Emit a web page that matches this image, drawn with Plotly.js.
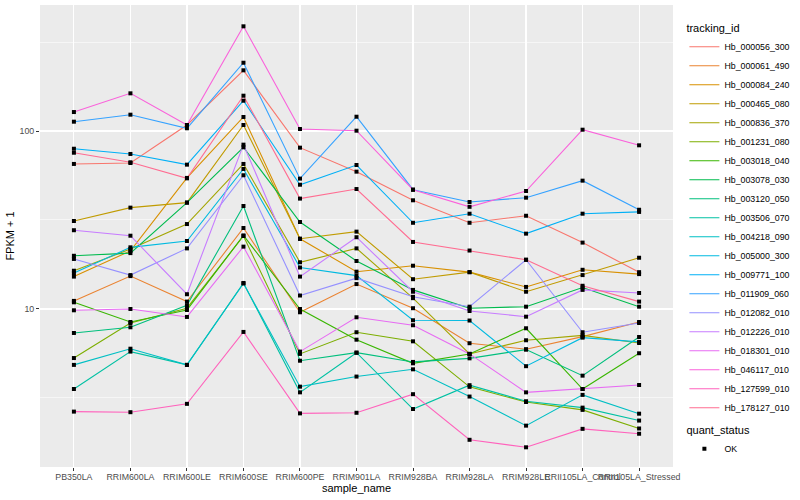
<!DOCTYPE html>
<html>
<head>
<meta charset="utf-8">
<script src="https://cdn.plot.ly/plotly-3.0.1.min.js"></script>
<style>
  html, body { margin: 0; padding: 0; background: #ffffff; }
  #chart { width: 800px; height: 500px; }
</style>
</head>
<body>
<div id="chart"></div>
<script>
// x categories (sample_name)
const categories = ["PB350LA", "RRIM600LA", "RRIM600LE", "RRIM600SE", "RRIM600PE", "RRIM901LA",
  "RRIM928BA", "RRIM928LA", "RRIM928LE", "RRII105LA_Control", "RRII105LA_Stressed"];

// tracking ids (legend order)
const trackingIds = ["Hb_000056_300", "Hb_000061_490", "Hb_000084_240", "Hb_000465_080", "Hb_000836_370",
  "Hb_001231_080", "Hb_003018_040", "Hb_003078_030", "Hb_003120_050", "Hb_003506_070",
  "Hb_004218_090", "Hb_005000_300", "Hb_009771_100", "Hb_011909_060", "Hb_012082_010",
  "Hb_012226_010", "Hb_018301_010", "Hb_046117_010", "Hb_127599_010", "Hb_178127_010"];

// FPKM + 1 values, one array per tracking id, in category order
const hb000056_300 = [65.3, 66.1, 108.1, 219.3, 80.6, 59.1, 40.8, 30.5, 33.4, 23.6, 16.1];
const hb000061_490 = [11.1, 15.3, 11.0, 28.5, 9.58, 13.8, 10.1, 6.42, 5.94, 6.99, 8.45];
const hb000084_240 = [15.2, 21.2, 54.5, 119.9, 24.8, 16.2, 17.5, 16.1, 13.3, 16.6, 15.7];
const hb000465_080 = [31.2, 37.1, 39.6, 108.1, 24.8, 27.2, 14.7, 16.1, 12.5, 15.5, 19.4];
const hb000836_370 = [16.4, 21.7, 30.0, 65.3, 18.3, 21.9, 11.5, 5.59, 6.67, 7.11, 6.44];
const hb001231_080 = [5.30, 8.34, 10.1, 25.7, 5.59, 7.40, 6.58, 3.65, 3.00, 2.71, 2.13];
const hb003018_040 = [10.9, 8.45, 9.87, 25.9, 10.0, 6.72, 4.95, 5.59, 7.79, 3.55, 5.64];
const hb003078_030 = [19.9, 20.6, 39.6, 81.0, 30.8, 18.6, 12.8, 10.1, 10.3, 13.2, 10.3];
const hb003120_050 = [7.33, 7.89, 10.5, 37.9, 5.12, 5.68, 5.04, 5.28, 5.91, 4.22, 6.96];
const hb003506_070 = [3.55, 5.76, 4.85, 14.0, 3.40, 5.68, 2.74, 3.73, 3.03, 2.79, 2.36];
const hb004218_090 = [4.85, 5.98, 4.85, 13.9, 3.66, 4.17, 4.58, 3.22, 2.21, 3.29, 2.58];
const hb005000_300 = [15.9, 22.2, 24.1, 61.2, 17.1, 15.4, 8.64, 8.61, 4.77, 6.90, 6.53];
const hb009771_100 = [79.5, 74.3, 64.7, 148.0, 49.9, 64.4, 30.5, 34.3, 26.5, 34.3, 35.1];
const hb011909_060 = [112.8, 123.5, 103.6, 241.9, 54.0, 120.3, 46.8, 39.9, 42.2, 52.6, 36.1];
const hb012082_010 = [19.1, 15.5, 21.9, 56.4, 11.9, 14.9, 11.7, 10.3, 18.9, 7.40, 8.34];
const hb012226_010 = [27.7, 25.8, 12.1, 83.8, 15.2, 25.3, 12.5, 9.74, 9.05, 12.8, 12.3];
const hb018301_010 = [9.83, 10.0, 9.02, 22.4, 5.76, 8.98, 8.10, 5.59, 3.40, 3.55, 3.74];
const hb046117_010 = [127.8, 162.8, 108.1, 387.5, 102.6, 100.4, 46.8, 37.5, 46.0, 101.7, 83.1];
const hb127599_010 = [2.65, 2.63, 2.93, 7.43, 2.59, 2.61, 3.32, 1.84, 1.67, 2.12, 1.99];
const hb178127_010 = [75.5, 66.7, 54.2, 157.9, 41.7, 47.2, 23.8, 21.3, 18.9, 13.5, 11.0];

const seriesValues = [hb000056_300, hb000061_490, hb000084_240, hb000465_080, hb000836_370,
  hb001231_080, hb003018_040, hb003078_030, hb003120_050, hb003506_070,
  hb004218_090, hb005000_300, hb009771_100, hb011909_060, hb012082_010,
  hb012226_010, hb018301_010, hb046117_010, hb127599_010, hb178127_010];

// y-axis tick labels
const yTickVals = [10, 100];
const yTickText = ["10", "100"];
const yMinorVals = [3.1623, 31.623, 316.23];

// ggplot hue palette (20 levels)
const seriesColors = ["#F8766D", "#EA8331", "#D89000", "#C09B00", "#A3A500", "#7CAE00", "#39B600",
  "#00BB4E", "#00BF7D", "#00C1A3", "#00BFC4", "#00BAE0", "#00B0F6", "#35A2FF", "#9590FF",
  "#C77CFF", "#E76BF3", "#FA62DB", "#FF62BC", "#FF6C91"];

const FONT = "Liberation Sans, Arial, Helvetica, sans-serif";

const traces = trackingIds.map((id, i) => ({
  type: "scatter",
  mode: "lines",
  x: categories,
  y: seriesValues[i],
  name: id,
  legend: "legend",
  line: { color: seriesColors[i], width: 1.1 },
  hoverinfo: "skip"
}));

// all points, black, quant_status = OK
const ptsX = [], ptsY = [];
seriesValues.forEach(vals => vals.forEach((v, j) => { ptsX.push(categories[j]); ptsY.push(v); }));
traces.push({
  type: "scatter",
  mode: "markers",
  x: ptsX,
  y: ptsY,
  name: "OK",
  legend: "legend2",
  marker: { symbol: "square", size: 4, color: "#000000" },
  hoverinfo: "skip"
});

const layout = {
  width: 800,
  height: 500,
  margin: { l: 40, r: 116, t: 5, b: 33, pad: 0 },
  paper_bgcolor: "#ffffff",
  plot_bgcolor: "#EBEBEB",
  font: { family: FONT, size: 9, color: "#000000" },
  showlegend: true,
  xaxis: {
    type: "category",
    categoryarray: categories,
    range: [-0.6, 10.6],
    showgrid: true,
    gridcolor: "#ffffff",
    gridwidth: 1.1,
    zeroline: false,
    showline: false,
    ticks: "outside",
    ticklen: 3,
    tickwidth: 1,
    tickcolor: "#333333",
    tickangle: 0,
    ticklabelstandoff: -2,
    tickfont: { family: FONT, size: 8.8, color: "#4D4D4D" },
    automargin: false,
    title: { text: "sample_name", font: { family: FONT, size: 11, color: "#000000" }, standoff: 0 }
  },
  yaxis: {
    type: "log",
    range: [0.112, 2.708],
    tickvals: yTickVals,
    ticktext: yTickText,
    showgrid: true,
    gridcolor: "#ffffff",
    gridwidth: 1.1,
    zeroline: false,
    showline: false,
    ticks: "outside",
    ticklen: 3,
    tickwidth: 1,
    tickcolor: "#333333",
    tickfont: { family: FONT, size: 8.8, color: "#4D4D4D" },
    automargin: false,
    minor: { tickvals: yMinorVals, showgrid: true, gridcolor: "#ffffff", gridwidth: 0.55, ticks: "" },
    title: { text: "FPKM + 1", font: { family: FONT, size: 11, color: "#000000" }, standoff: 2 }
  },
  legend: {
    x: 1.018, xanchor: "left",
    y: 0.972, yanchor: "top",
    bgcolor: "rgba(0,0,0,0)",
    font: { family: FONT, size: 8.8, color: "#000000" },
    title: { text: "tracking_id", font: { family: FONT, size: 11, color: "#000000" } },
    itemwidth: 30,
    tracegroupgap: 0
  },
  legend2: {
    x: 1.018, xanchor: "left",
    y: 0.102, yanchor: "top",
    bgcolor: "rgba(0,0,0,0)",
    font: { family: FONT, size: 8.8, color: "#000000" },
    title: { text: "quant_status", font: { family: FONT, size: 11, color: "#000000" } },
    itemwidth: 30
  }
};

Plotly.newPlot("chart", traces, layout, { staticPlot: true, displayModeBar: false });
</script>
</body>
</html>
